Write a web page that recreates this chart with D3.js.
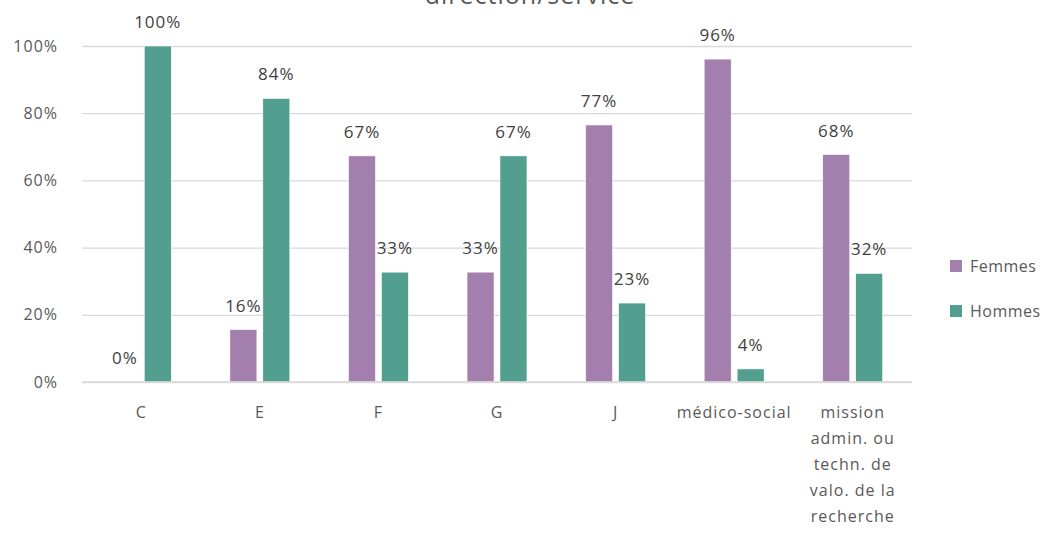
<!DOCTYPE html>
<html><head><meta charset="utf-8">
<script src="https://cdn.jsdelivr.net/npm/d3@7"></script>
<style>body{margin:0;background:#fff}svg{display:block;font-family:"Open Sans","Noto Sans",sans-serif}</style>
</head><body><svg id="c" width="1043" height="537"></svg>
<script>
const categories = ["C","E","F","G","J","médico-social","mission admin. ou techn. de valo. de la recherche"];
const femmes = [0, 15.6, 67.3, 32.7, 76.5, 96.1, 67.7];
const hommes = [100, 84.4, 32.7, 67.3, 23.5, 3.9, 32.3];
const femmesLabels = ["0%","16%","67%","33%","77%","96%","68%"];
const hommesLabels = ["100%","84%","33%","67%","23%","4%","32%"];
const yTicks = [0,20,40,60,80,100];
const seriesNames = ["Femmes","Hommes"];
const colors = ["#A27FAC","#529E8F"];
const titleText = "direction/service";

const svg = d3.select("#c");
const x = d3.scaleBand().domain(categories).range([82, 912]).paddingInner(0).paddingOuter(0);
const y = d3.scaleLinear().domain([0,100]).range([382, 46]);
const inner = d3.scaleBand().domain(seriesNames).range([0, x.bandwidth()]).paddingInner(0.18).paddingOuter(0.89);

svg.append("text").attr("x", 530).attr("y", 4).attr("text-anchor","middle")
  .attr("font-size", 25).attr("letter-spacing", 1).attr("fill","#595959").text(titleText);

// grid
const yAxis = d3.axisLeft(y).tickValues(yTicks).tickSize(-(912-82)).tickFormat(d => d + "%");
const ga = svg.append("g").attr("transform","translate(82,0)").call(yAxis);
ga.select(".domain").remove();
ga.selectAll(".tick line").attr("stroke","#d9d9d9").attr("stroke-width",1.3);
ga.selectAll(".tick text").attr("x",-24).attr("font-size",16).attr("letter-spacing",1).attr("font-family","Open Sans, sans-serif").attr("fill","#595959");

const series = [femmes, hommes];
const labels = [femmesLabels, hommesLabels];
series.forEach((vals, si) => {
  const g = svg.append("g");
  g.selectAll("rect").data(categories).join("rect")
    .attr("x", c => x(c) + inner(seriesNames[si]))
    .attr("width", inner.bandwidth())
    .attr("y", (c,i) => y(vals[i]))
    .attr("height", (c,i) => y(0) - y(vals[i]))
    .attr("fill", colors[si]).attr("stroke","#fff").attr("stroke-width",0.6);
  g.selectAll("text").data(categories).join("text")
    .attr("x", c => x(c) + inner(seriesNames[si]) + inner.bandwidth()/2)
    .attr("y", (c,i) => y(vals[i]) - 18)
    .attr("text-anchor","middle").attr("font-size",17).attr("letter-spacing",1).attr("fill","#404040")
    .text((c,i) => labels[si][i]);
});

// x axis baseline
svg.append("line").attr("x1",82).attr("x2",912).attr("y1",y(0)).attr("y2",y(0)).attr("stroke","#d9d9d9").attr("stroke-width",1.3);

// category labels with wrapping
function wrapLines(text, maxW, size){
  const tmp = svg.append("text").attr("font-size",size).attr("letter-spacing",1);
  const words = text.split(" ");
  const lines = []; let line = "";
  words.forEach(w => {
    const t = line ? line + " " + w : w;
    tmp.text(t);
    if (tmp.node().getComputedTextLength() > maxW && line) { lines.push(line); line = w; }
    else line = t;
  });
  if (line) lines.push(line);
  tmp.remove();
  return lines;
}
categories.forEach(c => {
  const lines = wrapLines(c, 100, 16);
  const t = svg.append("text").attr("text-anchor","middle").attr("font-size",16).attr("letter-spacing",1).attr("fill","#595959");
  lines.forEach((l, i) => t.append("tspan").attr("x", x(c) + x.bandwidth()/2).attr("y", 418 + i*26).text(l));
});

// legend
seriesNames.forEach((n, i) => {
  const ly = 266 + i*45;
  svg.append("rect").attr("x",950).attr("y",ly-6).attr("width",12).attr("height",12).attr("fill",colors[i]);
  svg.append("text").attr("x",970).attr("y",ly+6).attr("font-size",16).attr("letter-spacing",0.5).attr("fill","#595959").text(n);
});
</script></body></html>
